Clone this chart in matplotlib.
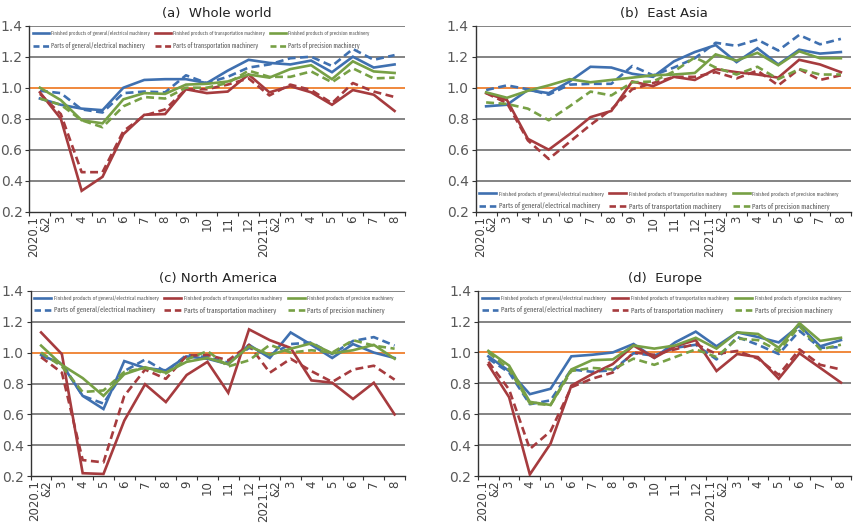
import matplotlib
matplotlib.use('Agg')
import matplotlib.pyplot as plt
import matplotlib.font_manager as fm
from matplotlib.lines import Line2D
from matplotlib.ticker import FixedLocator, NullFormatter

# x categories
months = ['2020.1\n&2', '3', '4', '5', '6', '7', '8', '9', '10', '11', '12',
          '2021.1\n&2', '3', '4', '5', '6', '7', '8']

# (a) Whole world
world_fin_gen = [0.93, 0.89, 0.865, 0.855, 1.0, 1.05, 1.055, 1.055, 1.03, 1.11, 1.18, 1.16, 1.15, 1.175, 1.1, 1.2, 1.13, 1.15]
world_par_gen = [0.98, 0.965, 0.86, 0.84, 0.965, 0.975, 0.97, 1.08, 1.03, 1.07, 1.13, 1.15, 1.19, 1.2, 1.14, 1.25, 1.18, 1.21]
world_fin_tra = [0.97, 0.8, 0.335, 0.425, 0.7, 0.825, 0.83, 0.99, 0.965, 0.975, 1.085, 0.97, 1.01, 0.97, 0.89, 0.985, 0.955, 0.85]
world_par_tra = [0.96, 0.83, 0.455, 0.455, 0.72, 0.82, 0.86, 0.99, 0.99, 1.02, 1.06, 0.95, 1.02, 0.985, 0.9, 1.03, 0.975, 0.94]
world_fin_pre = [1.0, 0.92, 0.79, 0.77, 0.925, 0.965, 0.96, 1.02, 1.025, 1.04, 1.085, 1.065, 1.12, 1.145, 1.055, 1.17, 1.105, 1.095]
world_par_pre = [0.93, 0.89, 0.79, 0.745, 0.88, 0.94, 0.93, 1.0, 1.0, 1.03, 1.11, 1.07, 1.07, 1.105, 1.035, 1.125, 1.06, 1.065]

# (b) East Asia
asia_fin_gen = [0.88, 0.89, 0.985, 0.965, 1.04, 1.135, 1.13, 1.09, 1.07, 1.17, 1.23, 1.275, 1.165, 1.255, 1.15, 1.245, 1.22, 1.23]
asia_par_gen = [0.985, 1.015, 0.99, 0.955, 1.02, 1.025, 1.025, 1.14, 1.08, 1.13, 1.19, 1.29, 1.27, 1.31, 1.24, 1.34, 1.28, 1.315]
asia_fin_tra = [0.965, 0.92, 0.67, 0.6, 0.7, 0.81, 0.85, 1.04, 1.01, 1.07, 1.05, 1.12, 1.1, 1.085, 1.065, 1.18, 1.15, 1.1]
asia_par_tra = [0.965, 0.9, 0.66, 0.54, 0.65, 0.76, 0.86, 0.99, 1.03, 1.07, 1.07, 1.1, 1.06, 1.11, 1.015, 1.12, 1.05, 1.08]
asia_fin_pre = [0.97, 0.935, 0.98, 1.015, 1.055, 1.035, 1.05, 1.065, 1.08, 1.085, 1.095, 1.215, 1.175, 1.225, 1.145, 1.235, 1.19, 1.19]
asia_par_pre = [0.905, 0.895, 0.865, 0.79, 0.88, 0.975, 0.95, 1.035, 1.04, 1.105, 1.195, 1.13, 1.085, 1.135, 1.055, 1.12, 1.085, 1.085]

# (c) North America
na_fin_gen = [0.985, 0.925, 0.72, 0.635, 0.945, 0.9, 0.885, 0.975, 0.96, 0.925, 1.05, 0.965, 1.13, 1.05, 0.965, 1.055, 1.0, 0.965]
na_par_gen = [0.98, 0.93, 0.72, 0.67, 0.88, 0.955, 0.875, 0.985, 0.97, 0.935, 1.03, 0.985, 1.055, 1.065, 0.99, 1.075, 1.1, 1.045]
na_fin_tra = [1.13, 0.99, 0.22, 0.215, 0.56, 0.795, 0.68, 0.855, 0.94, 0.74, 1.15, 1.08, 1.03, 0.82, 0.805, 0.7, 0.805, 0.6]
na_par_tra = [0.97, 0.87, 0.305, 0.29, 0.72, 0.89, 0.83, 0.98, 0.985, 0.95, 1.05, 0.87, 0.96, 0.88, 0.81, 0.89, 0.915, 0.825]
na_fin_pre = [1.045, 0.92, 0.835, 0.72, 0.86, 0.905, 0.87, 0.94, 0.965, 0.925, 1.04, 0.985, 1.025, 1.06, 0.995, 1.015, 1.05, 0.96]
na_par_pre = [1.0, 0.91, 0.745, 0.755, 0.875, 0.9, 0.865, 0.955, 1.01, 0.91, 0.95, 1.05, 1.0, 1.015, 1.0, 1.08, 1.045, 1.025]

# (d) Europe
eu_fin_gen = [0.975, 0.88, 0.73, 0.765, 0.975, 0.985, 1.0, 1.055, 0.965, 1.065, 1.135, 1.04, 1.13, 1.1, 1.065, 1.175, 1.04, 1.08]
eu_par_gen = [0.96, 0.87, 0.665, 0.69, 0.89, 0.875, 0.885, 0.995, 0.98, 1.03, 1.05, 0.955, 1.1, 1.05, 0.99, 1.14, 1.03, 1.035]
eu_fin_tra = [0.92, 0.71, 0.21, 0.41, 0.785, 0.86, 0.925, 1.045, 0.965, 1.04, 1.08, 0.88, 0.99, 0.97, 0.83, 0.995, 0.9, 0.805]
eu_par_tra = [0.94, 0.76, 0.375, 0.49, 0.775, 0.83, 0.87, 1.0, 0.985, 1.02, 1.055, 0.99, 1.01, 0.96, 0.855, 1.02, 0.92, 0.89]
eu_fin_pre = [1.01, 0.915, 0.68, 0.66, 0.89, 0.95, 0.955, 1.045, 1.025, 1.045, 1.095, 1.025, 1.13, 1.12, 1.03, 1.19, 1.075, 1.095]
eu_par_pre = [1.0, 0.89, 0.67, 0.66, 0.88, 0.9, 0.89, 0.96, 0.92, 0.97, 1.02, 0.97, 1.09, 1.08, 1.01, 1.17, 1.02, 1.05]

series_labels = ['Finished products of general/electrical machinery',
                 'Parts of general/electrical machinery',
                 'Finished products of transportation machinery',
                 'Parts of transportation machinery',
                 'Finished products of precision machinery',
                 'Parts of precision machinery']

BLUE = '#3f70b0'
RED = '#a63b3e'
GREEN = '#77a045'
ORANGE = '#f0883c'
COLORS = [BLUE, BLUE, RED, RED, GREEN, GREEN]

panels = [
    ('(a)  Whole world', [world_fin_gen, world_par_gen, world_fin_tra, world_par_tra, world_fin_pre, world_par_pre], 'top'),
    ('(b)  East Asia', [asia_fin_gen, asia_par_gen, asia_fin_tra, asia_par_tra, asia_fin_pre, asia_par_pre], 'bottom'),
    ('(c) North America', [na_fin_gen, na_par_gen, na_fin_tra, na_par_tra, na_fin_pre, na_par_pre], 'top'),
    ('(d)  Europe', [eu_fin_gen, eu_par_gen, eu_fin_tra, eu_par_tra, eu_fin_pre, eu_par_pre], 'top'),
]

# axes boxes in pixels: left, right, top, bottom
W, H = 856, 523
boxes = [(29.5, 405, 25.7, 211.7),
         (475.7, 851.3, 25.7, 211.7),
         (30.7, 405, 290.7, 476.3),
         (478, 851.3, 290.7, 476)]
# legend width wanted, in pixels
legend_widths = [338, 366, 366, 366]
PARTS_SCALE = 1.28  # the "Parts of" row is set larger than the "Finished" row


def find_condensed():
    # pick the narrowest regular-weight face among the installed fonts
    best = None
    skip = ('Italic', 'Oblique', 'Bold', 'Black', 'Thin', 'Medium', 'Heavy')
    for f in fm.fontManager.ttflist:
        name = f.name + ' ' + str(f.fname)
        if any(s in name for s in skip):
            continue
        if 'ExtraCondensed' in name or f.stretch in ('extra-condensed', 'ultra-condensed'):
            score = 0
        elif 'SemiCondensed' in name or f.stretch == 'semi-condensed':
            score = 2
        elif 'Condensed' in name or 'Narrow' in name or 'Cond' in name or f.stretch == 'condensed':
            score = 1
        else:
            continue
        if 'Light' in name:
            score += 0.5
        if best is None or score < best[0]:
            best = (score, f.fname)
    return best[1] if best else None


cond_file = find_condensed()


def legend_prop(size):
    if cond_file:
        return fm.FontProperties(fname=cond_file, size=size)
    return fm.FontProperties(family='Liberation Sans', size=size)


def legend_handles(size):
    # proxies so the dashed keys show two clean dashes
    key_pt = 3.0 * size  # handle length in points
    dash = key_pt / 1.9 / 2.6
    gap = key_pt / 1.9 - 2 * dash
    hs = []
    for i, c in enumerate(COLORS):
        if i % 2 == 0:
            hs.append(Line2D([], [], color=c, lw=1.9))
        else:
            hs.append(Line2D([], [], color=c, lw=1.9, ls=(0, (dash, gap)),
                             dash_capstyle='butt'))
    return hs


def add_legend(ax, legend_pos, size):
    px = size * 100 / 72
    spacing = max(0.1, 13.0 / px - 1.35)
    if legend_pos == 'top':
        loc, anchor = 'upper left', (0.005, 0.985)
    else:
        loc, anchor = 'lower left', (0.005, 0.0)
    leg = ax.legend(legend_handles(size), series_labels, ncol=3, loc=loc,
                    bbox_to_anchor=anchor, frameon=False, prop=legend_prop(size),
                    handletextpad=0.5, handlelength=3.0, columnspacing=1.0,
                    labelspacing=spacing, borderaxespad=0.0, borderpad=0.3)
    for i, t in enumerate(leg.get_texts()):
        t.set_color('#595959')
        if i % 2 == 1:
            t.set_fontsize(size * PARTS_SCALE)
    return leg


def draw_panel(ax, title, data):
    x = list(range(len(months)))
    for i, ys in enumerate(data):
        ls = '-' if i % 2 == 0 else (0, (3.0, 1.7))
        ax.plot(x, ys, color=COLORS[i], lw=1.9, ls=ls, zorder=3,
                solid_joinstyle='miter', dash_capstyle='butt')
    ax.axhline(1.0, color=ORANGE, lw=1.4, zorder=2)

    ax.set_xlim(-0.5, len(months) - 0.5)
    ax.set_ylim(0.2, 1.4)
    ax.set_yticks([0.2, 0.4, 0.6, 0.8, 1.0, 1.2, 1.4])
    ax.set_yticklabels(['%.1f' % v for v in ax.get_yticks()])
    for v in [0.4, 0.6, 0.8, 1.2, 1.4]:
        ax.axhline(v, color='#6e6e6e', lw=1.2, zorder=1)

    ax.set_xticks(x)
    ax.set_xticklabels(months, rotation=90, ha='center', va='top',
                       multialignment='right', fontsize=8.5, color='#404040',
                       linespacing=0.9)
    ax.tick_params(axis='x', which='major', length=0, pad=3)
    ax.xaxis.set_minor_locator(FixedLocator([i - 0.5 for i in range(len(months) + 1)]))
    ax.xaxis.set_minor_formatter(NullFormatter())
    ax.tick_params(axis='x', which='minor', length=3, width=0.8, color='#333333')
    ax.tick_params(axis='y', length=3, width=0.8, labelsize=10, labelcolor='#595959',
                   pad=2, color='#333333')

    for s in ['top', 'right']:
        ax.spines[s].set_visible(False)
    for s in ['left', 'bottom']:
        ax.spines[s].set_color('#333333')
        ax.spines[s].set_linewidth(1.0)

    ax.set_title(title, fontsize=9.5, fontweight='medium', color='#222222', pad=6)


fig = plt.figure(figsize=(W / 100, H / 100), dpi=100)
items = []
for (title, data, lp), (l, r, t, b), lw in zip(panels, boxes, legend_widths):
    ax = fig.add_axes([l / W, 1 - b / H, (r - l) / W, (b - t) / H])
    draw_panel(ax, title, data)
    items.append((ax, lp, lw))

# fit legend font size so the legend is as wide as in the source
renderer = fig.canvas.get_renderer()
for ax, lp, lw in items:
    size = 5.0
    for _ in range(4):
        leg = add_legend(ax, lp, size)
        width = leg.get_window_extent(renderer).width
        size = size * lw / width
    add_legend(ax, lp, size)

fig.savefig('out.png', dpi=100)
